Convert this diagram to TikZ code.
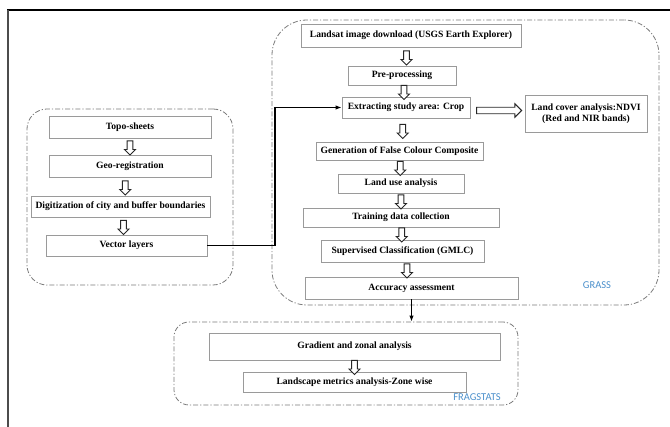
\documentclass[tikz,border=0pt]{standalone}
\usepackage{fontspec}
\setmainfont{Liberation Serif}
\newfontfamily\labelfont{Carlito}
\usetikzlibrary{shapes.arrows,arrows.meta,calc}
\definecolor{boxgray}{HTML}{9A9A9A}
\definecolor{contgray}{HTML}{7A7A7A}
\definecolor{toolblue}{HTML}{4A8FCB}
\begin{document}
\begin{tikzpicture}[x=1pt,y=-1pt,
  stepbox/.style={draw=boxgray,line width=0.8pt,fill=white,inner sep=1pt,
    font=\fontsize{9.6}{11}\selectfont\bfseries,align=center},
  container/.style={draw=contgray,line width=0.8pt,
    dash pattern=on 5pt off 2pt on 1.2pt off 2pt},
  harrow/.style={draw=black!85,line width=0.9pt,fill=white,single arrow,
    single arrow head extend=2.6pt,single arrow head indent=0pt,
    inner sep=2.4pt,minimum height=14pt,shape border rotate=270},
  rarrow/.style={draw=black!85,line width=0.9pt,fill=white,single arrow,
    single arrow head extend=3.5pt,single arrow head indent=0pt,
    inner sep=2.8pt,minimum height=45pt},
  conn/.style={draw=black,line width=1.3pt,-{Latex[length=6pt,width=4.5pt]}},
  tool/.style={font=\labelfont\fontsize{10.5}{12}\selectfont,text=toolblue}
]
\useasboundingbox (0,0) rectangle (670,427);
% frame
\draw[line width=1.5pt,black] (7,10) -- (670,10);
\draw[line width=2pt,black!70] (8,10) -- (8,427);

% containers
\node[container,rounded corners=20pt,minimum width=206pt,minimum height=176pt] (leftbox) at (130,197) {};
\node[container,rounded corners=35pt,minimum width=387pt,minimum height=285pt] (grassbox) at (465.5,162.5) {};
\node[container,rounded corners=15pt,minimum width=344pt,minimum height=83pt] (fragbox) at (346,363.5) {};

% left column
\node[stepbox,minimum width=162pt,minimum height=22pt] (topo) at (130,127) {Topo-sheets};
\node[stepbox,minimum width=162pt,minimum height=22pt] (geo) at (130,166) {Geo-registration};
\node[stepbox,minimum width=179pt,minimum height=21pt] (digit) at (120.5,206.5) {Digitization of city and buffer boundaries};
\node[stepbox,minimum width=161pt,minimum height=21pt] (vector) at (126.5,245.5) {Vector layers};

% GRASS column
\node[stepbox,minimum width=220pt,minimum height=23pt] (land) at (411,35.5) {Landsat image download (USGS Earth Explorer)};
\node[stepbox,minimum width=108pt,minimum height=19pt] (pre) at (402,75.5) {Pre-processing};
\node[stepbox,minimum width=128pt,minimum height=21pt] (extract) at (406,107.5) {Extracting study area: Crop};
\node[stepbox,minimum width=122pt,minimum height=37pt] (ndvi) at (586,113.5) {Land cover analysis:NDVI\\(Red and NIR bands)};
\node[stepbox,minimum width=167pt,minimum height=18pt] (fcc) at (399.5,151) {Generation of False Colour Composite};
\node[stepbox,minimum width=126pt,minimum height=19pt] (landuse) at (401,183.5) {Land use analysis};
\node[stepbox,minimum width=196pt,minimum height=19pt] (train) at (401,217.5) {Training data collection};
\node[stepbox,minimum width=163pt,minimum height=22pt] (super) at (402.5,251) {Supervised Classification (GMLC)};
\node[stepbox,minimum width=213pt,minimum height=22pt] (acc) at (411.5,288) {Accuracy assessment};

% FRAGSTATS
\node[stepbox,minimum width=291pt,minimum height=27pt] (grad) at (354.5,346.5) {Gradient and zonal analysis};
\node[stepbox,minimum width=223pt,minimum height=20pt] (lsm) at (354.5,382) {Landscape metrics analysis-Zone wise};

% tool labels
\node[tool] (grasslbl) at (597,285) {GRASS};
\node[tool] (fraglbl) at (477,397) {FRAGSTATS};

% hollow arrows
\node[harrow] (a1) at ($(topo.south)!0.5!(geo.north)$) {};
\node[harrow] (a2) at ($(geo.south)!0.5!(digit.north)$) {};
\node[harrow] (a3) at ($(digit.south)!0.5!(vector.north)$) {};
\node[harrow] (b1) at ($(land.south)!0.5!(pre.north)$) {};
\node[harrow] (b2) at ($(pre.south)!0.5!(extract.north)$) {};
\node[harrow] (b3) at ($(extract.south)!0.5!(fcc.north)$) {};
\node[harrow] (b4) at ($(fcc.south)!0.5!(landuse.north)$) {};
\node[harrow] (b5) at ($(landuse.south)!0.5!(train.north)$) {};
\node[harrow] (b6) at ($(train.south)!0.5!(super.north)$) {};
\node[harrow] (b7) at ($(super.south)!0.5!(acc.north)$) {};
\node[harrow] (c1) at ($(grad.south)!0.5!(lsm.north)$) {};
\node[rarrow] (r1) at ($(extract.east)!0.5!(ndvi.west)$) {};

% connectors
\coordinate (jx) at (275,0);
\draw[conn] (vector.east) -- (vector.east -| jx) |- (extract.west);
\draw[conn] (acc.south) -- (acc.south |- fragbox.north);
\end{tikzpicture}
\end{document}
